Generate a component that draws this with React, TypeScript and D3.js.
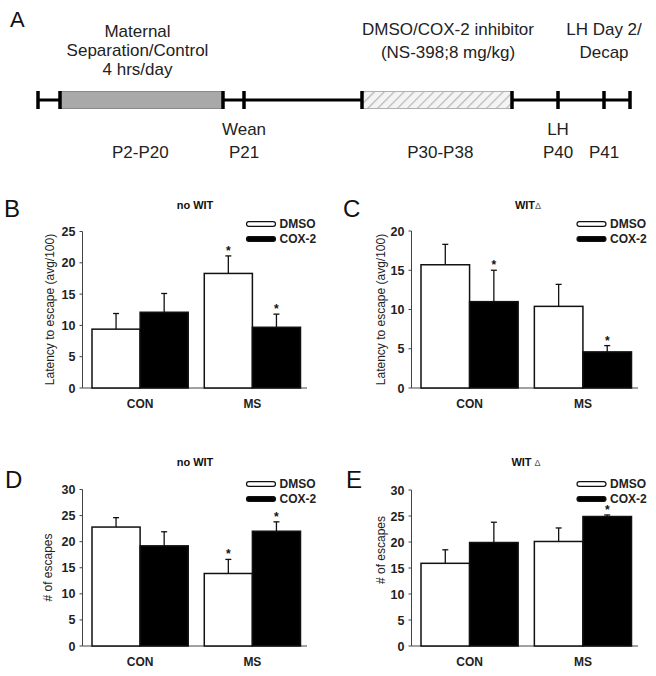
import React from "react";
import * as d3 from "d3";

// ---------- DATA ----------
const groups = ["CON", "MS"];
const seriesNames = ["DMSO", "COX-2"];

// Panel B: latency, no WIT
const latNoWitDMSO = [9.4, 18.3];
const latNoWitDMSOErr = [2.5, 2.8];
const latNoWitCOX = [12.1, 9.7];
const latNoWitCOXErr = [3.0, 2.1];
const latNoWitSigDMSO = [false, true];
const latNoWitSigCOX = [false, true];

// Panel C: latency, WIT delta
const latWitDMSO = [15.7, 10.4];
const latWitDMSOErr = [2.6, 2.8];
const latWitCOX = [11.0, 4.6];
const latWitCOXErr = [4.0, 0.8];
const latWitSigDMSO = [false, false];
const latWitSigCOX = [true, true];

// Panel D: escapes, no WIT
const escNoWitDMSO = [22.8, 13.9];
const escNoWitDMSOErr = [1.8, 2.7];
const escNoWitCOX = [19.2, 22.0];
const escNoWitCOXErr = [2.7, 1.8];
const escNoWitSigDMSO = [false, true];
const escNoWitSigCOX = [false, true];

// Panel E: escapes, WIT delta
const escWitDMSO = [15.9, 20.1];
const escWitDMSOErr = [2.6, 2.6];
const escWitCOX = [19.9, 24.9];
const escWitCOXErr = [3.9, 0.3];
const escWitSigDMSO = [false, false];
const escWitSigCOX = [false, true];

const latencyTicksNoWit = [0, 5, 10, 15, 20, 25];
const latencyTicksWit = [0, 5, 10, 15, 20];
const escapeTicks = [0, 5, 10, 15, 20, 25, 30];

// Timeline (panel A)
const timelineDays = [0, 2, 20, 21, 30, 38, 40, 41, 42];
const timelineTickDays = [0, 2, 20, 21, 30, 38, 40, 41, 42];
const periodStart = [2, 30];
const periodEnd = [20, 38];
const periodLabels = [
  ["Maternal", "Separation/Control", "4 hrs/day"],
  ["DMSO/COX-2 inhibitor", "(NS-398;8 mg/kg)"],
];
const periodBelow = ["P2-P20", "P30-P38"];
const eventDays = [21, 40, 41];
const eventAbove = [[], [], ["LH Day 2/", "Decap"]];
const eventBelow = [["Wean", "P21"], ["LH", "P40"], ["", "P41"]];

// ---------- LAYOUT ----------
const FONT = "'Liberation Sans', Arial, Helvetica, sans-serif";

type PanelCfg = {
  letter: string;
  lx: number;
  ly: number;
  title: string;
  delta: boolean;
  titleX: number;
  titleY: number;
  axisX: number;
  axisEnd: number;
  y0: number;
  yTop: number;
  ticks: number[];
  yLabel: string;
  yLabelX: number;
  yLabelY: number;
  legendX: number;
  legendY: number;
  xLabelY: number;
  dmso: number[];
  dmsoErr: number[];
  cox: number[];
  coxErr: number[];
  sigD: boolean[];
  sigC: boolean[];
};

const panels: PanelCfg[] = [
  {
    letter: "B", lx: 4, ly: 217, title: "no WIT", delta: false, titleX: 195, titleY: 209,
    axisX: 82.5, axisEnd: 307, y0: 388, yTop: 231.5, ticks: latencyTicksNoWit,
    yLabel: "Latency to escape (avg/100)", yLabelX: 50, yLabelY: 309.5,
    legendX: 246.5, legendY: 224, xLabelY: 407.5,
    dmso: latNoWitDMSO, dmsoErr: latNoWitDMSOErr, cox: latNoWitCOX, coxErr: latNoWitCOXErr,
    sigD: latNoWitSigDMSO, sigC: latNoWitSigCOX,
  },
  {
    letter: "C", lx: 343, ly: 217, title: "WIT", delta: true, titleX: 528, titleY: 209,
    axisX: 411.5, axisEnd: 638, y0: 388, yTop: 231, ticks: latencyTicksWit,
    yLabel: "Latency to escape (avg/100)", yLabelX: 381, yLabelY: 309.5,
    legendX: 577, legendY: 224, xLabelY: 407.5,
    dmso: latWitDMSO, dmsoErr: latWitDMSOErr, cox: latWitCOX, coxErr: latWitCOXErr,
    sigD: latWitSigDMSO, sigC: latWitSigCOX,
  },
  {
    letter: "D", lx: 5, ly: 488, title: "no WIT", delta: false, titleX: 195, titleY: 466,
    axisX: 82.5, axisEnd: 307, y0: 646, yTop: 489.5, ticks: escapeTicks,
    yLabel: "# of escapes", yLabelX: 48, yLabelY: 567.5,
    legendX: 246.5, legendY: 484, xLabelY: 666,
    dmso: escNoWitDMSO, dmsoErr: escNoWitDMSOErr, cox: escNoWitCOX, coxErr: escNoWitCOXErr,
    sigD: escNoWitSigDMSO, sigC: escNoWitSigCOX,
  },
  {
    letter: "E", lx: 346, ly: 488, title: "WIT ", delta: true, titleX: 526, titleY: 466,
    axisX: 411.5, axisEnd: 638, y0: 646, yTop: 490, ticks: escapeTicks,
    yLabel: "# of escapes", yLabelX: 381, yLabelY: 550,
    legendX: 577, legendY: 484, xLabelY: 666,
    dmso: escWitDMSO, dmsoErr: escWitDMSOErr, cox: escWitCOX, coxErr: escWitCOXErr,
    sigD: escWitSigDMSO, sigC: escWitSigCOX,
  },
];

function BarPanel({ p }: { p: PanelCfg }) {
  const yMax = p.ticks[p.ticks.length - 1];
  const y = d3.scaleLinear().domain([0, yMax]).range([p.y0, p.yTop]);
  const x = d3
    .scaleBand<string>()
    .domain(groups)
    .range([p.axisX + 9.5, p.axisEnd - 6.5])
    .paddingInner(0.143)
    .paddingOuter(0);
  const xs = d3.scaleBand<string>().domain(seriesNames).range([0, x.bandwidth()]).padding(0);

  const seriesVals = [p.dmso, p.cox];
  const seriesErr = [p.dmsoErr, p.coxErr];
  const seriesSig = [p.sigD, p.sigC];
  const fills = ["#ffffff", "#000000"];

  return (
    <g fontFamily={FONT}>
      <text x={p.lx} y={p.ly} fontSize={24} fill="#111">{p.letter}</text>
      <text x={p.titleX} y={p.titleY} fontSize={11} fontWeight="bold" textAnchor="middle" fill="#111">
        {p.title}
        {p.delta ? <tspan fontWeight="normal" fontSize={9} fill="#555">Δ</tspan> : null}
      </text>
      {/* axes */}
      <line x1={p.axisX} x2={p.axisX} y1={p.y0} y2={y(yMax)} stroke="#444" strokeWidth={1} />
      <line x1={p.axisX} x2={p.axisEnd} y1={p.y0} y2={p.y0} stroke="#444" strokeWidth={1} />
      {p.ticks.map((t) => (
        <g key={t}>
          <line x1={p.axisX - 3} x2={p.axisX} y1={y(t)} y2={y(t)} stroke="#444" strokeWidth={1} />
          <text x={p.axisX - 7} y={y(t)} dy="0.36em" fontSize={12.5} textAnchor="end" fill="#222" fontWeight="bold">
            {t}
          </text>
        </g>
      ))}
      <text
        transform={`translate(${p.yLabelX},${p.yLabelY}) rotate(-90)`}
        textAnchor="middle"
        dy="0.35em"
        fontSize={12}
        fill="#222"
      >
        {p.yLabel}
      </text>
      {/* bars */}
      {groups.map((g, gi) => (
        <g key={g}>
          {seriesNames.map((s, si) => {
            const v = seriesVals[si][gi];
            const e = seriesErr[si][gi];
            const bx = (x(g) as number) + (xs(s) as number);
            const bw = xs.bandwidth();
            const cx = bx + bw / 2;
            return (
              <g key={s}>
                <line x1={cx} x2={cx} y1={y(v)} y2={y(v + e)} stroke="#111" strokeWidth={1.3} />
                <line x1={cx - 3} x2={cx + 3} y1={y(v + e)} y2={y(v + e)} stroke="#111" strokeWidth={1.3} />
                <rect x={bx} y={y(v)} width={bw} height={p.y0 - y(v)} fill={fills[si]} stroke="#111" strokeWidth={1.5} />
                {seriesSig[si][gi] ? (
                  <text x={cx} y={y(v + e) - 1} textAnchor="middle" fontSize={12} fontWeight="bold" fill="#111">*</text>
                ) : null}
              </g>
            );
          })}
          <text x={(x(g) as number) + x.bandwidth() / 2} y={p.xLabelY} textAnchor="middle" fontSize={12} fontWeight="bold" fill="#222">
            {g}
          </text>
        </g>
      ))}
      {/* legend */}
      {seriesNames.map((s, si) => (
        <g key={s}>
          <rect x={p.legendX} y={p.legendY + si * 15 - 2.4} width={29} height={4.8} rx={2.4} fill={fills[si]} stroke="#111" strokeWidth={1.2} />
          <text x={p.legendX + 33} y={p.legendY + si * 15} dy="0.36em" fontSize={12} fill="#222" fontWeight="bold">
            {s}
          </text>
        </g>
      ))}
    </g>
  );
}

function Timeline() {
  const tx = d3
    .scaleLinear()
    .domain(timelineDays)
    .range([38, 60, 223, 244, 362, 512, 558, 604, 630]);
  const lineY = 100;
  const fs = 17;
  const periodFill = ["#a9a9a9", "url(#hatch)"];
  const periodStroke = ["#8a8a8a", "#b0b0b0"];
  const aboveLabelOffset = [-4, 11];
  return (
    <g fontFamily={FONT}>
      <defs>
        <pattern id="hatch" patternUnits="userSpaceOnUse" width={7} height={7} patternTransform="rotate(45)">
          <rect width={7} height={7} fill="#f4f4f4" />
          <line x1={0} y1={0} x2={0} y2={7} stroke="#b8b8b8" strokeWidth={2.5} />
        </pattern>
      </defs>
      <text x={10} y={27} fontSize={22} fill="#111">A</text>
      <line x1={tx(timelineDays[0])} x2={tx(timelineDays[timelineDays.length - 1])} y1={lineY} y2={lineY} stroke="#000" strokeWidth={3} />
      {periodStart.map((d, i) => (
        <g key={i}>
          <rect
            x={tx(d)}
            y={lineY - 8.5}
            width={tx(periodEnd[i]) - tx(d)}
            height={17}
            fill={periodFill[i]}
            stroke={periodStroke[i]}
            strokeWidth={1}
          />
          {periodLabels[i].map((l, li) => (
            <text
              key={li}
              x={(tx(d) + tx(periodEnd[i])) / 2 + aboveLabelOffset[i]}
              y={(i === 0 ? 37 : 35) + li * (i === 0 ? 19 : 23)}
              textAnchor="middle"
              fontSize={fs}
              fill="#222"
            >
              {l}
            </text>
          ))}
          <text x={(tx(d) + tx(periodEnd[i])) / 2 + aboveLabelOffset[i] * 0.3} y={158} textAnchor="middle" fontSize={fs} fill="#222">
            {periodBelow[i]}
          </text>
        </g>
      ))}
      {timelineTickDays.map((d) => (
        <line key={d} x1={tx(d)} x2={tx(d)} y1={lineY - 9} y2={lineY + 9} stroke="#000" strokeWidth={3.5} />
      ))}
      {eventDays.map((d, i) => (
        <g key={d}>
          {eventAbove[i].map((l, li) => (
            <text key={li} x={tx(d)} y={35 + li * 23} textAnchor="middle" fontSize={fs} fill="#222">
              {l}
            </text>
          ))}
          {eventBelow[i].map((l, li) => (
            <text key={li} x={tx(d)} y={135 + li * 23} textAnchor="middle" fontSize={fs} fill="#222">
              {l}
            </text>
          ))}
        </g>
      ))}
    </g>
  );
}

export default function App() {
  return (
    <svg
      width={656}
      height={676}
      viewBox="0 0 656 676"
      style={{ position: "absolute", left: 0, top: 0, background: "#fff" }}
    >
      <rect width={656} height={676} fill="#fff" />
      <Timeline />
      {panels.map((p) => (
        <BarPanel key={p.letter} p={p} />
      ))}
    </svg>
  );
}
